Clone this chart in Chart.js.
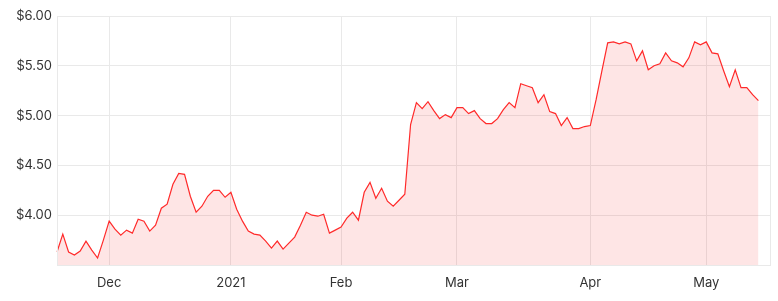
<!DOCTYPE html>
<html>
<head>
<meta charset="utf-8">
<script src="https://cdn.jsdelivr.net/npm/chart.js@4"></script>
<style>
  html, body { margin: 0; padding: 0; background: #fff; }
  #wrap { width: 778px; height: 301px; position: relative; }
</style>
</head>
<body>
<div id="wrap"><canvas id="chartPrice"></canvas></div>
<script>
// Fechas de cotización (días hábiles), las dos últimas solo dejan hueco a la derecha
const dates = [
  '2020-11-18','2020-11-19','2020-11-20','2020-11-23','2020-11-24','2020-11-25','2020-11-26','2020-11-27','2020-11-30',
  '2020-12-01','2020-12-02','2020-12-03','2020-12-04','2020-12-07','2020-12-08','2020-12-09','2020-12-10','2020-12-11',
  '2020-12-14','2020-12-15','2020-12-16','2020-12-17','2020-12-18','2020-12-21','2020-12-22','2020-12-23','2020-12-24',
  '2020-12-29','2020-12-30','2020-12-31',
  '2021-01-04','2021-01-05','2021-01-06','2021-01-07','2021-01-08','2021-01-11','2021-01-12','2021-01-13','2021-01-14',
  '2021-01-15','2021-01-18','2021-01-19','2021-01-20','2021-01-21','2021-01-22','2021-01-25','2021-01-27','2021-01-28',
  '2021-01-29',
  '2021-02-01','2021-02-02','2021-02-03','2021-02-04','2021-02-05','2021-02-08','2021-02-09','2021-02-10','2021-02-11',
  '2021-02-12','2021-02-15','2021-02-16','2021-02-17','2021-02-18','2021-02-19','2021-02-22','2021-02-23','2021-02-24',
  '2021-02-25','2021-02-26',
  '2021-03-01','2021-03-02','2021-03-03','2021-03-04','2021-03-05','2021-03-08','2021-03-09','2021-03-10','2021-03-11',
  '2021-03-12','2021-03-15','2021-03-16','2021-03-17','2021-03-18','2021-03-19','2021-03-22','2021-03-23','2021-03-24',
  '2021-03-25','2021-03-26','2021-03-29','2021-03-30','2021-03-31',
  '2021-04-01','2021-04-06','2021-04-07','2021-04-08','2021-04-09','2021-04-12','2021-04-13','2021-04-14','2021-04-15',
  '2021-04-16','2021-04-19','2021-04-20','2021-04-21','2021-04-22','2021-04-23','2021-04-26','2021-04-27','2021-04-28',
  '2021-04-29','2021-04-30',
  '2021-05-03','2021-05-04','2021-05-05','2021-05-06','2021-05-07','2021-05-10','2021-05-11','2021-05-12','2021-05-13',
  '2021-05-14','2021-05-17','2021-05-18'
];

// Precio de cierre
const prices = [
  3.63, 3.81, 3.63, 3.60, 3.64, 3.74, 3.65, 3.57, 3.75,
  3.94, 3.86, 3.80, 3.85, 3.82, 3.96, 3.94, 3.84, 3.90, 4.07, 4.11, 4.31, 4.42, 4.41, 4.19, 4.03, 4.09, 4.19, 4.25, 4.25, 4.18,
  4.23, 4.06, 3.94, 3.84, 3.81, 3.80, 3.74, 3.67, 3.74, 3.66, 3.72, 3.78, 3.90, 4.03, 4.00, 3.99, 4.01, 3.82, 3.85,
  3.88, 3.97, 4.03, 3.95, 4.23, 4.33, 4.17, 4.27, 4.14, 4.09, 4.15, 4.21, 4.91, 5.13, 5.07, 5.14, 5.05, 4.97, 5.01, 4.98,
  5.08, 5.08, 5.02, 5.05, 4.97, 4.92, 4.92, 4.97, 5.06, 5.13, 5.08, 5.32, 5.30, 5.28, 5.13, 5.21, 5.04, 5.02, 4.90, 4.98, 4.87, 4.87, 4.89,
  4.90, 5.16, 5.45, 5.73, 5.74, 5.72, 5.74, 5.72, 5.55, 5.65, 5.46, 5.50, 5.52, 5.63, 5.55, 5.53, 5.49, 5.58, 5.74, 5.71,
  5.74, 5.63, 5.62, 5.45, 5.29, 5.46, 5.28, 5.28, 5.21, 5.15
];

// Etiquetas del eje X (primer día hábil de cada mes)
const monthStarts = ['2020-12-01', '2021-01-04', '2021-02-01', '2021-03-01', '2021-04-01', '2021-05-03'];
const monthNames = ['Dec', '2021', 'Feb', 'Mar', 'Apr', 'May'];

// Eje Y
const yMin = 3.5;
const yMax = 6.0;
const yStep = 0.5;

const gridColor = '#e9e9e9';
const textColor = '#333333';
const fontCfg = { family: 'Inter, "Open Sans", sans-serif', size: 13 };

// Marco alrededor del área de la gráfica
const frame = {
  id: 'frame',
  afterDraw(chart) {
    const { ctx, chartArea: a } = chart;
    ctx.save();
    ctx.strokeStyle = gridColor;
    ctx.lineWidth = 1;
    ctx.strokeRect(Math.round(a.left) + 0.5, Math.round(a.top) + 0.5,
      Math.round(a.right - a.left), Math.round(a.bottom - a.top));
    ctx.restore();
  }
};

const ctx = document.getElementById('chartPrice').getContext('2d');
new Chart(ctx, {
  type: 'line',
  data: {
    labels: dates,
    datasets: [{
      data: prices,
      borderColor: '#ff2a2a',
      borderWidth: 1.2,
      backgroundColor: 'rgba(245, 40, 40, 0.12)',
      fill: 'start',
      tension: 0,
      pointRadius: 0
    }]
  },
  options: {
    responsive: true,
    maintainAspectRatio: false,
    animation: false,
    layout: { padding: { top: 16, right: 8, left: 0, bottom: 0 } },
    plugins: {
      legend: { display: false },
      tooltip: { enabled: false }
    },
    scales: {
      x: {
        type: 'category',
        afterFit: function(scale) { scale.height = 36; },
        grid: { color: gridColor, drawTicks: false },
        border: { color: '#dddddd' },
        ticks: {
          autoSkip: false,
          maxRotation: 0,
          padding: 10,
          color: textColor,
          font: fontCfg,
          callback: function(value) {
            const i = monthStarts.indexOf(this.getLabelForValue(value));
            return i >= 0 ? monthNames[i] : null;
          }
        }
      },
      y: {
        min: yMin,
        max: yMax,
        afterFit: function(scale) { scale.width = 57; },
        grid: { color: gridColor, drawTicks: false },
        border: { color: gridColor },
        ticks: {
          stepSize: yStep,
          padding: 5,
          color: textColor,
          font: fontCfg,
          callback: function(value) {
            return value === yMin ? '' : '$' + value.toFixed(2);
          }
        }
      }
    }
  },
  plugins: [frame]
});
</script>
</body>
</html>
